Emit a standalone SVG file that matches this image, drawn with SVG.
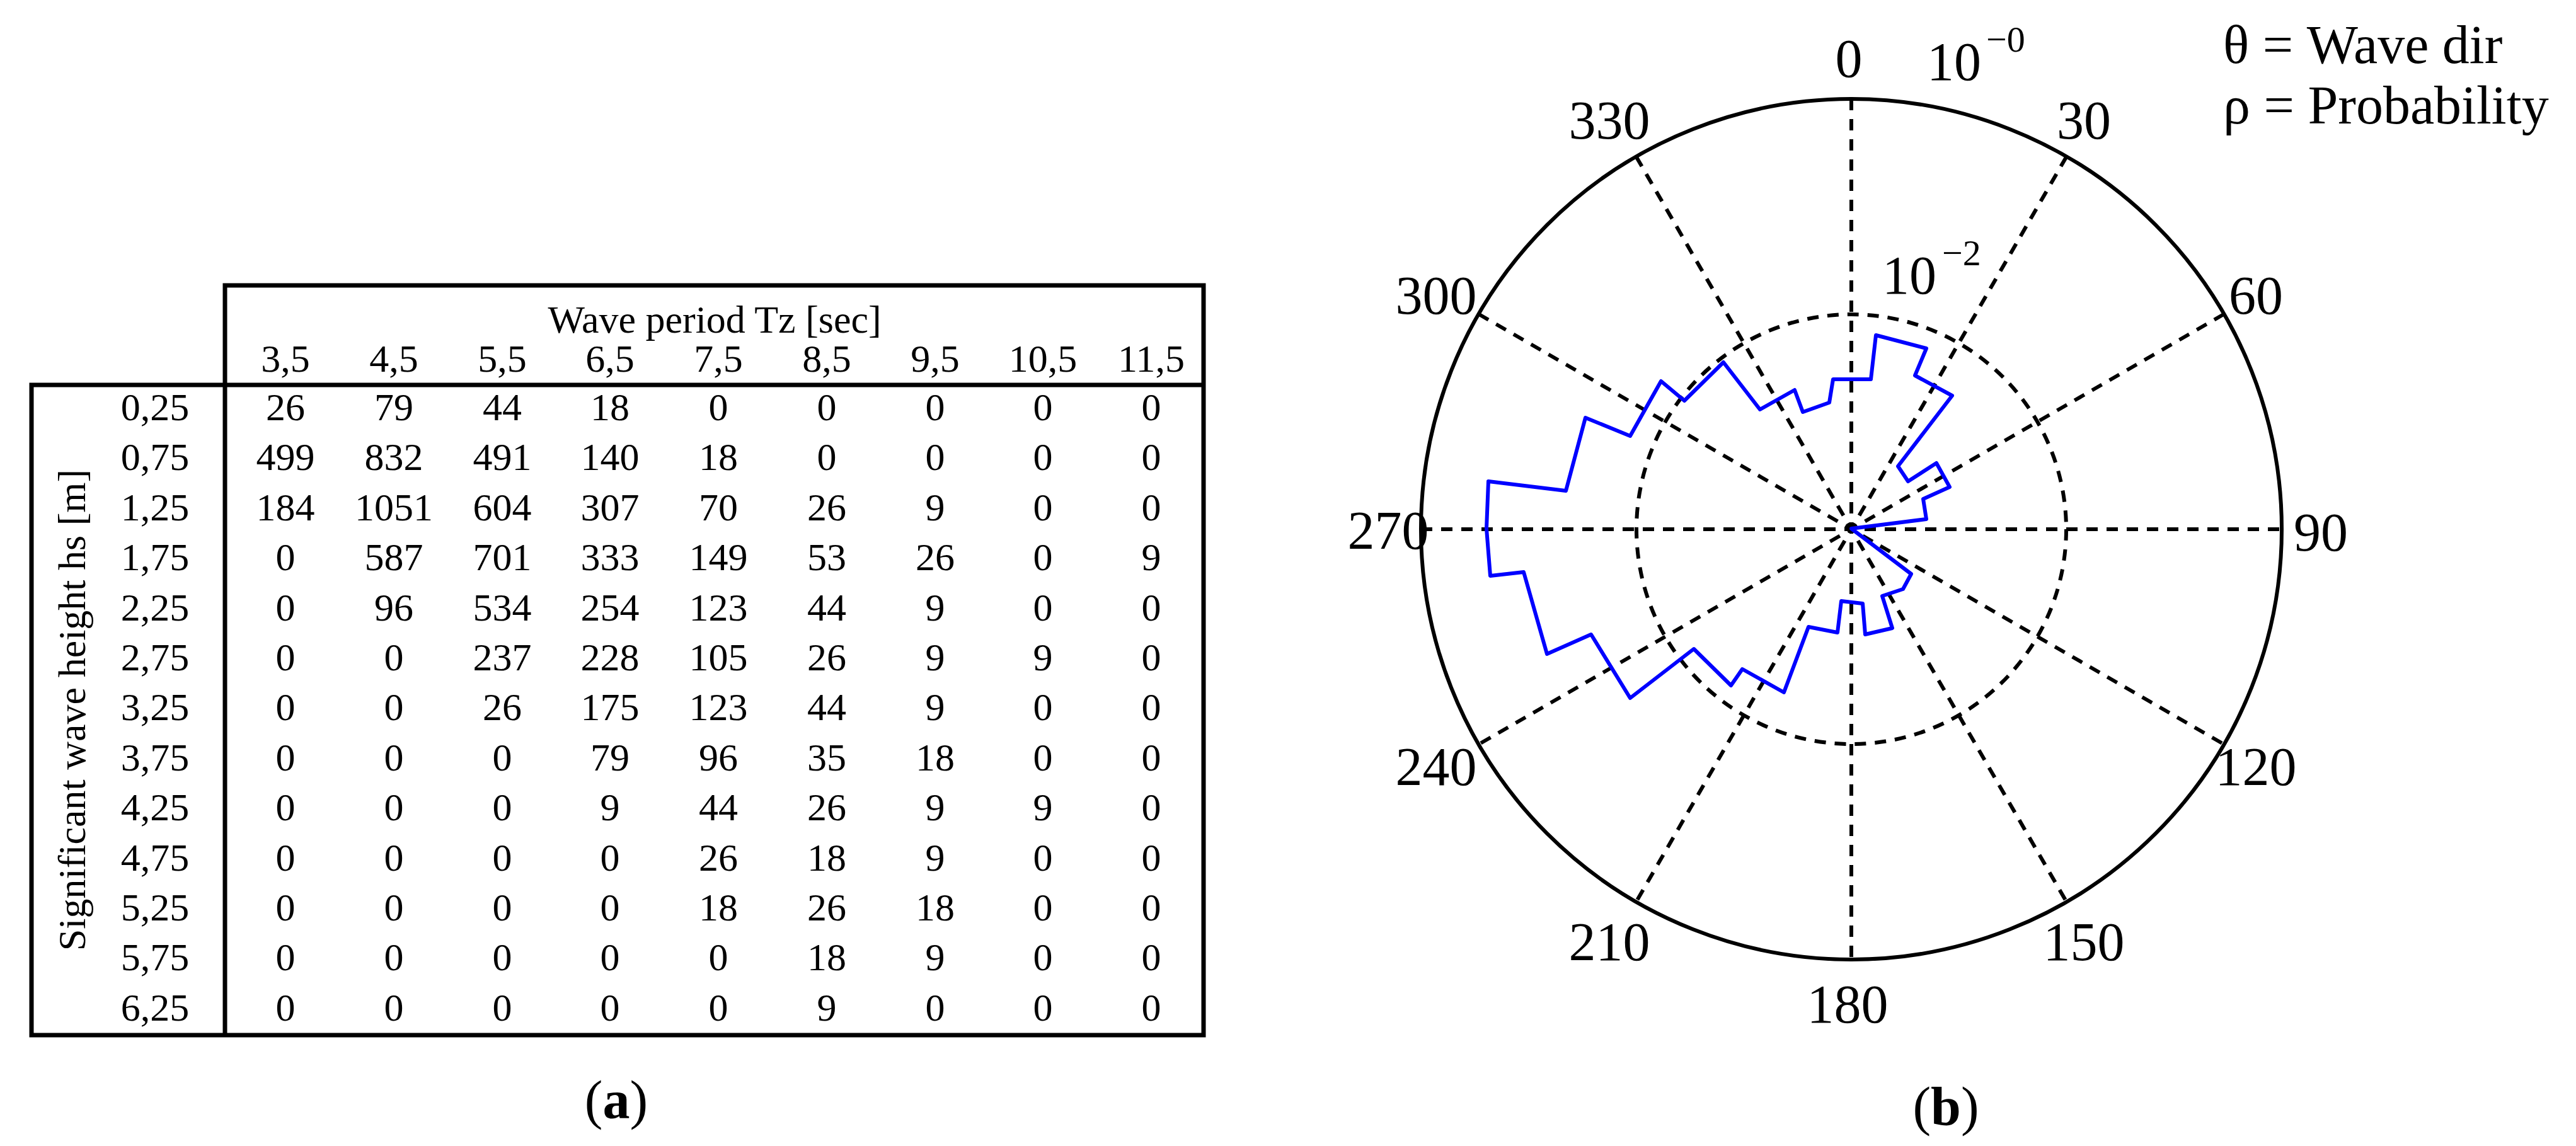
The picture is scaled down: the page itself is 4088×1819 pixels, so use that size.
<svg xmlns="http://www.w3.org/2000/svg" width="4088" height="1819" viewBox="0 0 4088 1819">
<style>
text{font-family:"Liberation Serif","Times New Roman",serif;fill:#000}
.t{font-size:62px;text-anchor:middle}
.p{font-size:86px;text-anchor:middle}
.s{font-size:58px}
.g{stroke:#000;stroke-width:6;stroke-dasharray:18 14;fill:none}
</style>
<rect width="4088" height="1819" fill="#fff"/>
<g id="table">
<path d="M357,611 V453 H1910 V1643 H50 V611 Z M357,611 H1910 M357,611 V1643" fill="none" stroke="#000" stroke-width="7"/>
<text class="t" x="1134" y="528">Wave period Tz [sec]</text>
<g id="cols"><text class="t" x="453" y="590">3,5</text><text class="t" x="625" y="590">4,5</text><text class="t" x="797" y="590">5,5</text><text class="t" x="968" y="590">6,5</text><text class="t" x="1140" y="590">7,5</text><text class="t" x="1312" y="590">8,5</text><text class="t" x="1484" y="590">9,5</text><text class="t" x="1655" y="590">10,5</text><text class="t" x="1827" y="590">11,5</text></g>
<text class="t" transform="translate(135,1127) rotate(-90)">Significant wave height hs [m]</text>
<g id="rows">
<text class="t" x="246" y="667">0,25</text><text class="t" x="246" y="746">0,75</text><text class="t" x="246" y="826">1,25</text><text class="t" x="246" y="905">1,75</text><text class="t" x="246" y="985">2,25</text><text class="t" x="246" y="1064">2,75</text><text class="t" x="246" y="1143">3,25</text><text class="t" x="246" y="1223">3,75</text><text class="t" x="246" y="1302">4,25</text><text class="t" x="246" y="1382">4,75</text><text class="t" x="246" y="1461">5,25</text><text class="t" x="246" y="1540">5,75</text><text class="t" x="246" y="1620">6,25</text>
</g>
<g id="cells">
<text class="t" y="667"><tspan x="453">26</tspan><tspan x="625">79</tspan><tspan x="797">44</tspan><tspan x="968">18</tspan><tspan x="1140">0</tspan><tspan x="1312">0</tspan><tspan x="1484">0</tspan><tspan x="1655">0</tspan><tspan x="1827">0</tspan></text>
<text class="t" y="746"><tspan x="453">499</tspan><tspan x="625">832</tspan><tspan x="797">491</tspan><tspan x="968">140</tspan><tspan x="1140">18</tspan><tspan x="1312">0</tspan><tspan x="1484">0</tspan><tspan x="1655">0</tspan><tspan x="1827">0</tspan></text>
<text class="t" y="826"><tspan x="453">184</tspan><tspan x="625">1051</tspan><tspan x="797">604</tspan><tspan x="968">307</tspan><tspan x="1140">70</tspan><tspan x="1312">26</tspan><tspan x="1484">9</tspan><tspan x="1655">0</tspan><tspan x="1827">0</tspan></text>
<text class="t" y="905"><tspan x="453">0</tspan><tspan x="625">587</tspan><tspan x="797">701</tspan><tspan x="968">333</tspan><tspan x="1140">149</tspan><tspan x="1312">53</tspan><tspan x="1484">26</tspan><tspan x="1655">0</tspan><tspan x="1827">9</tspan></text>
<text class="t" y="985"><tspan x="453">0</tspan><tspan x="625">96</tspan><tspan x="797">534</tspan><tspan x="968">254</tspan><tspan x="1140">123</tspan><tspan x="1312">44</tspan><tspan x="1484">9</tspan><tspan x="1655">0</tspan><tspan x="1827">0</tspan></text>
<text class="t" y="1064"><tspan x="453">0</tspan><tspan x="625">0</tspan><tspan x="797">237</tspan><tspan x="968">228</tspan><tspan x="1140">105</tspan><tspan x="1312">26</tspan><tspan x="1484">9</tspan><tspan x="1655">9</tspan><tspan x="1827">0</tspan></text>
<text class="t" y="1143"><tspan x="453">0</tspan><tspan x="625">0</tspan><tspan x="797">26</tspan><tspan x="968">175</tspan><tspan x="1140">123</tspan><tspan x="1312">44</tspan><tspan x="1484">9</tspan><tspan x="1655">0</tspan><tspan x="1827">0</tspan></text>
<text class="t" y="1223"><tspan x="453">0</tspan><tspan x="625">0</tspan><tspan x="797">0</tspan><tspan x="968">79</tspan><tspan x="1140">96</tspan><tspan x="1312">35</tspan><tspan x="1484">18</tspan><tspan x="1655">0</tspan><tspan x="1827">0</tspan></text>
<text class="t" y="1302"><tspan x="453">0</tspan><tspan x="625">0</tspan><tspan x="797">0</tspan><tspan x="968">9</tspan><tspan x="1140">44</tspan><tspan x="1312">26</tspan><tspan x="1484">9</tspan><tspan x="1655">9</tspan><tspan x="1827">0</tspan></text>
<text class="t" y="1382"><tspan x="453">0</tspan><tspan x="625">0</tspan><tspan x="797">0</tspan><tspan x="968">0</tspan><tspan x="1140">26</tspan><tspan x="1312">18</tspan><tspan x="1484">9</tspan><tspan x="1655">0</tspan><tspan x="1827">0</tspan></text>
<text class="t" y="1461"><tspan x="453">0</tspan><tspan x="625">0</tspan><tspan x="797">0</tspan><tspan x="968">0</tspan><tspan x="1140">18</tspan><tspan x="1312">26</tspan><tspan x="1484">18</tspan><tspan x="1655">0</tspan><tspan x="1827">0</tspan></text>
<text class="t" y="1540"><tspan x="453">0</tspan><tspan x="625">0</tspan><tspan x="797">0</tspan><tspan x="968">0</tspan><tspan x="1140">0</tspan><tspan x="1312">18</tspan><tspan x="1484">9</tspan><tspan x="1655">0</tspan><tspan x="1827">0</tspan></text>
<text class="t" y="1620"><tspan x="453">0</tspan><tspan x="625">0</tspan><tspan x="797">0</tspan><tspan x="968">0</tspan><tspan x="1140">0</tspan><tspan x="1312">9</tspan><tspan x="1484">0</tspan><tspan x="1655">0</tspan><tspan x="1827">0</tspan></text>
</g>
</g>
<text class="p" x="978" y="1775">(<tspan font-weight="bold">a</tspan>)</text>
<g id="polar">
<g transform="translate(2938,840)">
<circle r="683" fill="none" stroke="#000" stroke-width="6"/>
<circle r="341" class="g"/>
<g class="g">
<line x1="0" y1="-683" x2="0" y2="683"/>
<line x1="-683" y1="0" x2="683" y2="0"/>
<line x1="-341.5" y1="-591.5" x2="341.5" y2="591.5"/>
<line x1="341.5" y1="-591.5" x2="-341.5" y2="591.5"/>
<line x1="-591.5" y1="-341.5" x2="591.5" y2="341.5"/>
<line x1="591.5" y1="-341.5" x2="-591.5" y2="341.5"/>
</g>
</g>
<polygon fill="none" stroke="#0000ff" stroke-width="6" stroke-linejoin="round" points="2909,602 2969,602 2977,532 3057,553 3039,596 3098,628 3012,740 3028,764 3073,735 3094,773 3052,792 3057,824 2938,839 3033,911 3020,935 2987,946 3003,997 2960,1007 2956,958 2922,954 2916,1004 2870,995 2831,1099 2765,1062 2747,1088 2688,1030 2587,1108 2525,1007 2455,1038 2418,908 2365,914 2359,839 2362,764 2485,779 2516,663 2587,692 2636,605 2673,636 2735,575 2793,650 2848,619 2861,654 2903,639"/>
<g id="anglabels">
<text class="p" x="2934" y="122">0</text>
<text class="p" x="2554" y="220">330</text>
<text class="p" x="3307" y="220">30</text>
<text class="p" x="2279" y="498">300</text>
<text class="p" x="3580" y="498">60</text>
<text class="p" x="2203" y="871">270</text>
<text class="p" x="3683" y="874">90</text>
<text class="p" x="2279" y="1246">240</text>
<text class="p" x="3580" y="1246">120</text>
<text class="p" x="2554" y="1524">210</text>
<text class="p" x="3307" y="1524">150</text>
<text class="p" x="2932" y="1623">180</text>
</g>
<text x="3101" y="127" class="p">10</text><text x="3152" y="82" class="s">−0</text>
<text x="3030" y="466" class="p">10</text><text x="3082" y="421" class="s">−2</text>
<text x="3528" y="100" style="font-size:86px">θ = Wave dir</text>
<text x="3528" y="196" style="font-size:86px">ρ = Probability</text>
</g>
<text class="p" x="3088" y="1785">(<tspan font-weight="bold">b</tspan>)</text>
</svg>
